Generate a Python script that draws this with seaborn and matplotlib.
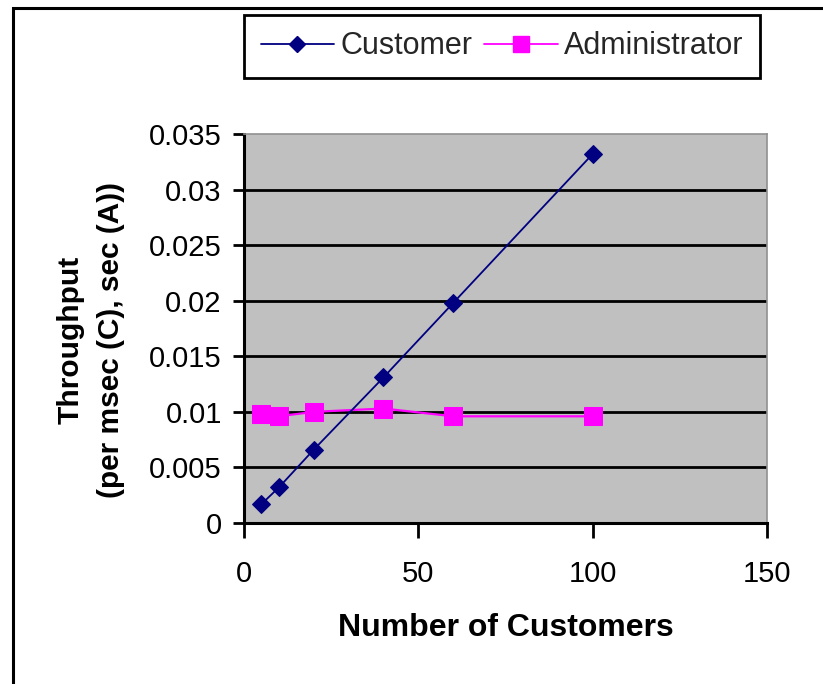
import matplotlib
matplotlib.use("Agg")
import matplotlib.pyplot as plt
from matplotlib.patches import Rectangle
from matplotlib.lines import Line2D
import seaborn as sns
import pandas as pd

# Throughput measurements
customers = [5, 10, 20, 40, 60, 100]
customer_throughput = [0.0017, 0.0032, 0.0066, 0.0131, 0.0198, 0.0332]
admin_throughput = [0.0098, 0.0096, 0.0100, 0.0103, 0.0096, 0.0096]

series_names = ["Customer", "Administrator"]
y_ticks = [0, 0.005, 0.01, 0.015, 0.02, 0.025, 0.03, 0.035]
y_tick_labels = ["0", "0.005", "0.01", "0.015", "0.02", "0.025", "0.03", "0.035"]
x_ticks = [0, 50, 100, 150]
x_tick_labels = ["0", "50", "100", "150"]

sns.set_theme(style="white")
plt.rcParams["font.family"] = ["Liberation Sans", "DejaVu Sans"]

W, H = 823, 684
fig = plt.figure(figsize=(W / 100, H / 100), dpi=100)
fig.patch.set_facecolor("white")

ax = fig.add_axes([244 / W, 1 - 523 / H, (767 - 244) / W, (523 - 134) / H])
ax.set_facecolor("#C0C0C0")

df_c = pd.DataFrame({"customers": customers, "throughput": customer_throughput})
df_a = pd.DataFrame({"customers": customers, "throughput": admin_throughput})

navy = "#000080"
magenta = "#FF00FF"

sns.lineplot(data=df_c, x="customers", y="throughput", ax=ax, color=navy,
             marker="D", markersize=9, markeredgecolor=navy, linewidth=1.3,
             zorder=4)
sns.lineplot(data=df_a, x="customers", y="throughput", ax=ax, color=magenta,
             marker="s", markersize=13, markeredgecolor=magenta, linewidth=1.6,
             zorder=3)

ax.set_xlim(0, 150)
ax.set_ylim(0, 0.035)
ax.set_xticks(x_ticks)
ax.set_xticklabels(x_tick_labels)
ax.set_yticks(y_ticks)
ax.set_yticklabels(y_tick_labels)

ax.yaxis.grid(True, color="black", linewidth=2)
ax.xaxis.grid(False)
ax.set_axisbelow(True)
ax.yaxis.get_gridlines()[-1].set_visible(False)

for side in ["left", "bottom"]:
    ax.spines[side].set_color("black")
    ax.spines[side].set_linewidth(2.2)
for side in ["top", "right"]:
    ax.spines[side].set_color("#909090")
    ax.spines[side].set_linewidth(1.2)

ax.tick_params(axis="both", which="both", direction="out", color="black",
               width=2, labelsize=21, labelcolor="black")
ax.tick_params(axis="y", length=8, pad=8, left=True)
ax.tick_params(axis="x", length=11, pad=16, bottom=True)

ax.set_xlabel("Number of Customers", fontsize=23, fontweight="bold",
              labelpad=18, color="black")
ax.set_ylabel("Throughput\n(per msec (C), sec (A))", fontsize=21.5,
              fontweight="bold", color="black", linespacing=1.55)
ax.yaxis.set_label_coords(-0.228, 0.47)

handles = [
    Line2D([], [], color=navy, marker="D", markersize=8, linewidth=1.3),
    Line2D([], [], color=magenta, marker="s", markersize=11, linewidth=1.3),
]
leg = fig.legend(handles, series_names, loc="center",
                 bbox_to_anchor=(502 / W, 1 - 46.5 / H), ncol=2,
                 fontsize=22, frameon=True, fancybox=False, framealpha=1,
                 edgecolor="black", handlelength=2.4, handletextpad=0.2,
                 columnspacing=0.4, borderpad=0.55, borderaxespad=0)
leg.get_frame().set_linewidth(2)

# Chart-area border running off the right and bottom edges
fig.patches.append(Rectangle((13 / W, -0.05), 1.1, 1 - 8 / H + 0.05,
                             transform=fig.transFigure, fill=False,
                             edgecolor="black", linewidth=2.2))

fig.savefig("out.png", dpi=100, facecolor="white")
